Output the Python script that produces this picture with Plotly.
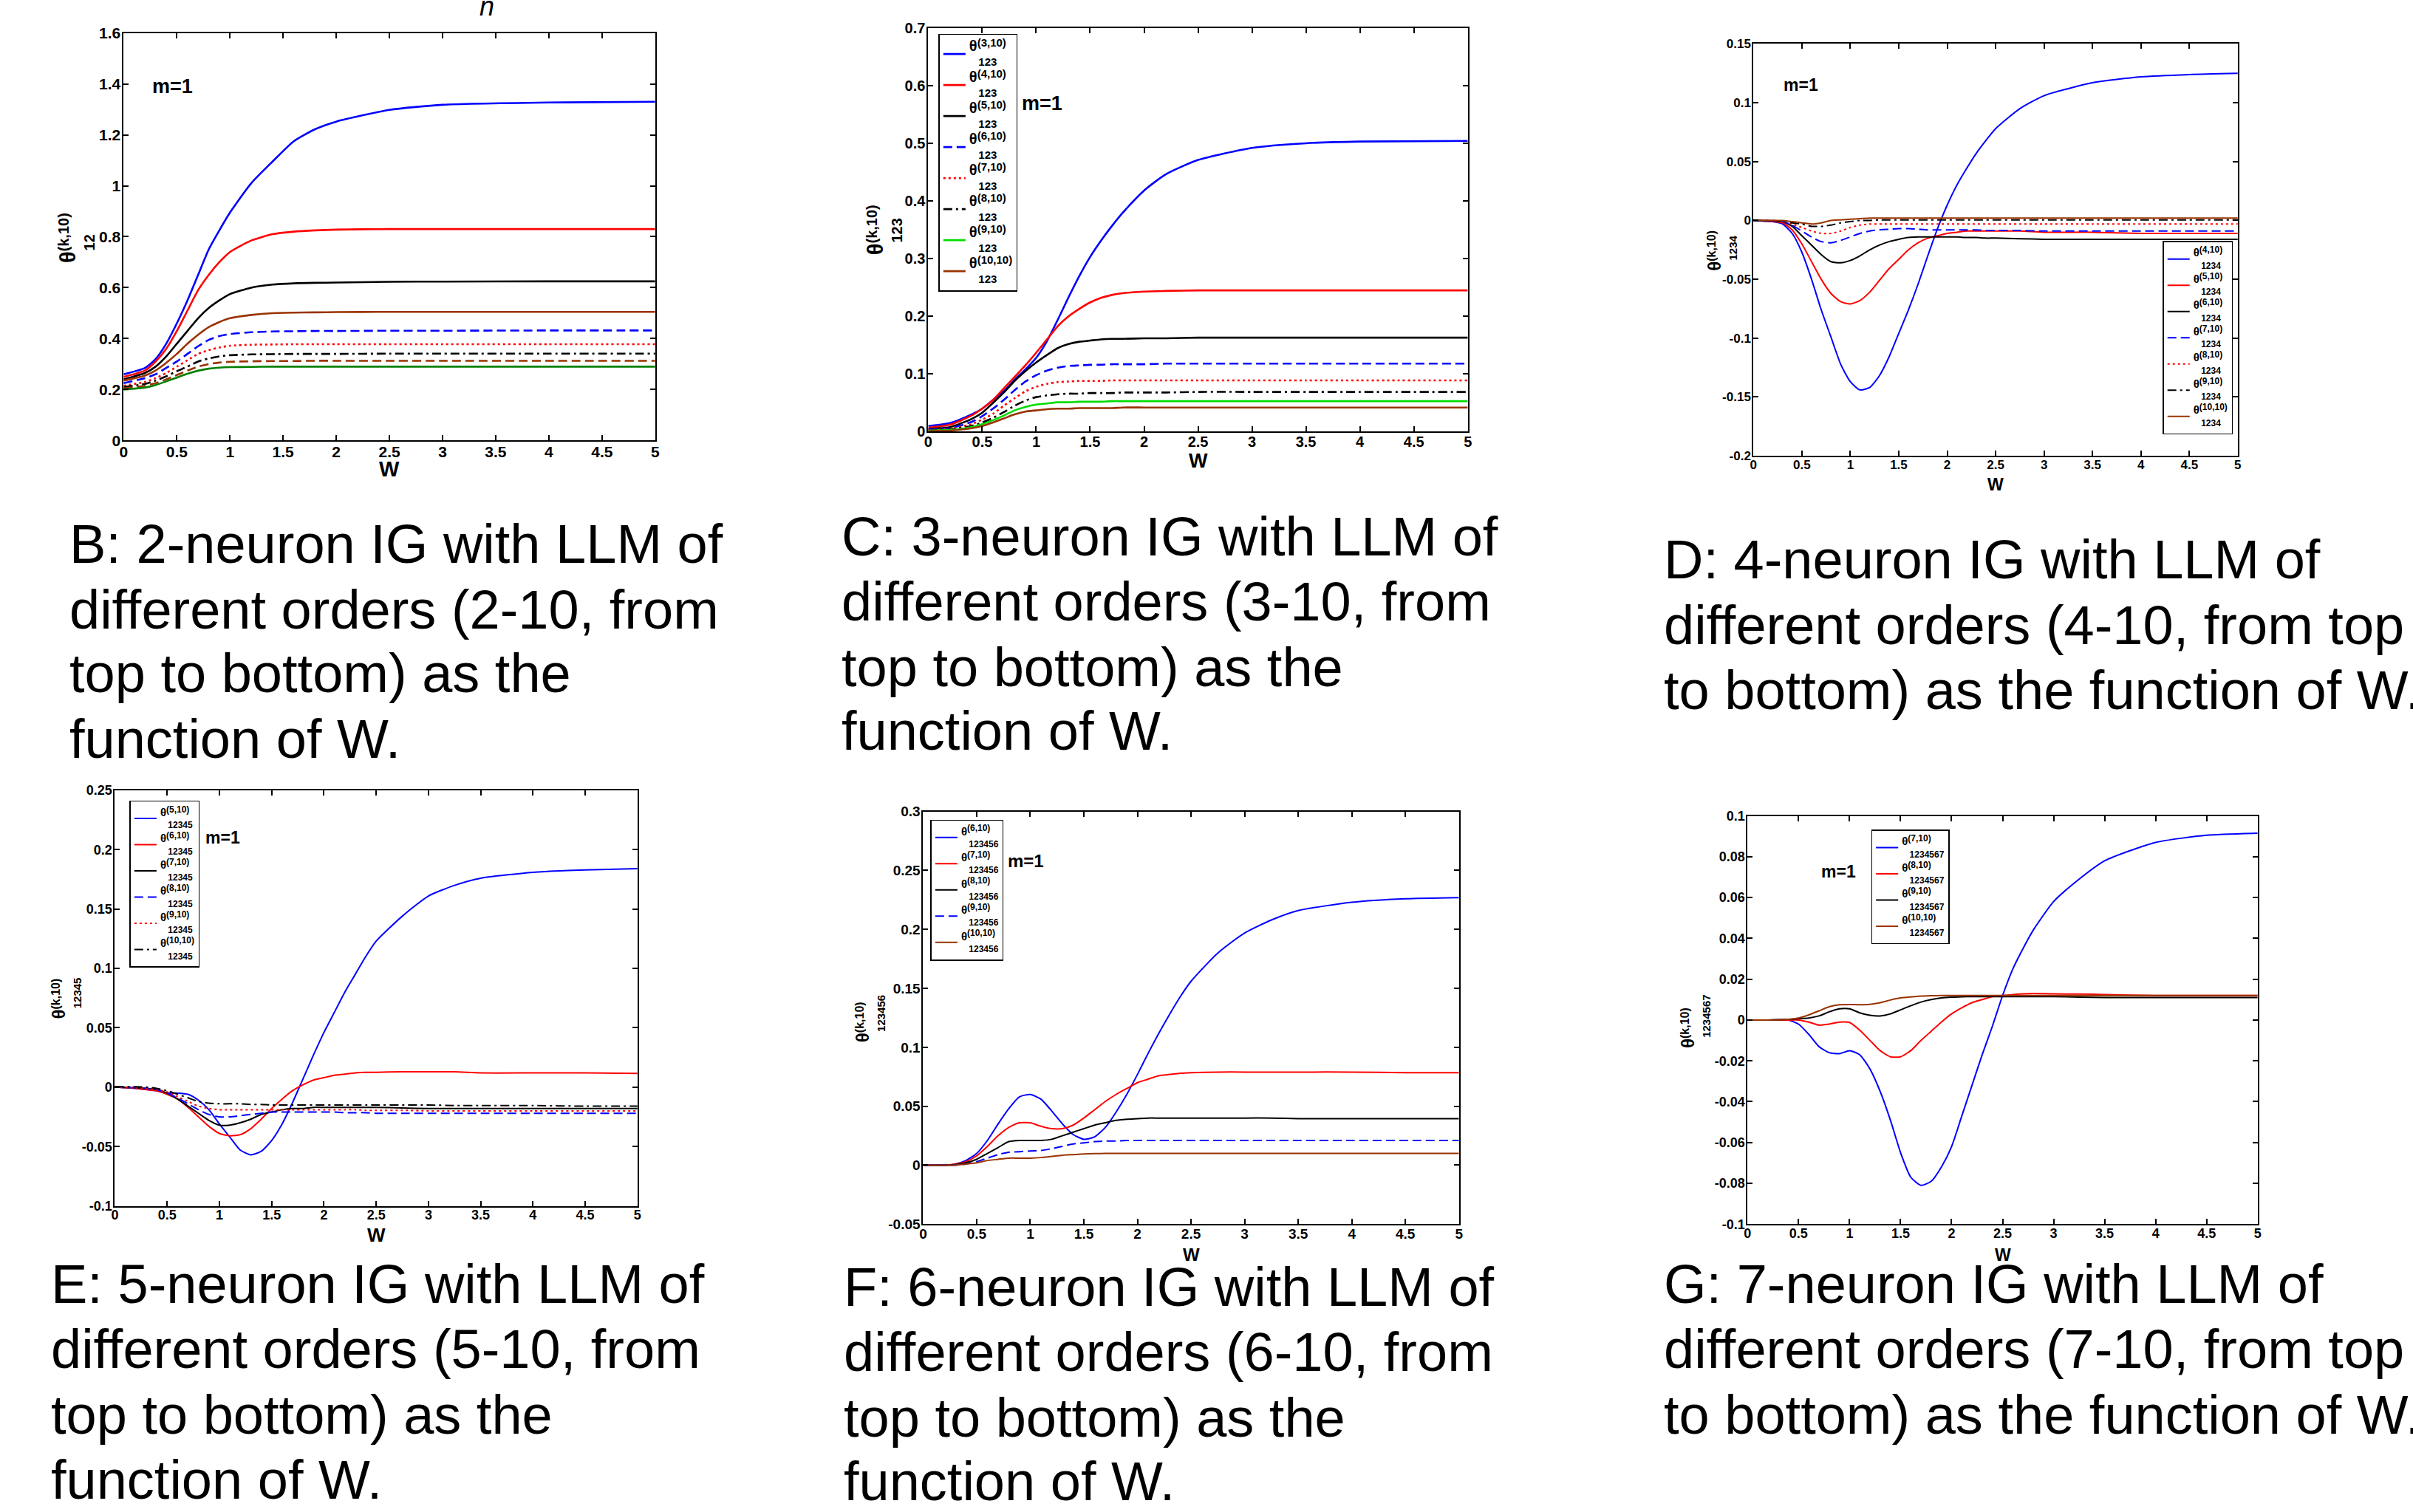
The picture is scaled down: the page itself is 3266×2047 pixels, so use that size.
import plotly.graph_objects as go

FIG_W, FIG_H = 3266, 2047
FONT = "Liberation Sans, Arial, sans-serif"

# ------------------------------------------------------------------ data
X_TICKS = [0, 0.5, 1, 1.5, 2, 2.5, 3, 3.5, 4, 4.5, 5]
X_TICKTEXT = ["0", "0.5", "1", "1.5", "2", "2.5", "3", "3.5", "4", "4.5", "5"]

# Panel B : theta_12^(k,10), k = 2..10
W_B = [0, 0.2, 0.3, 0.4, 0.5, 0.6, 0.7, 0.8, 0.9, 1.0, 1.2, 1.4, 1.6, 1.8, 2.0, 2.5, 3.0, 4.0, 5.0]
B_K2 = [0.26, 0.285, 0.32, 0.38, 0.46, 0.55, 0.65, 0.75, 0.825, 0.895, 1.01, 1.095, 1.175, 1.222, 1.252, 1.298, 1.318, 1.327, 1.33]
B_K3 = [0.25, 0.275, 0.31, 0.36, 0.43, 0.51, 0.59, 0.65, 0.70, 0.74, 0.785, 0.81, 0.82, 0.825, 0.828, 0.83, 0.83, 0.83, 0.83]
B_K4 = [0.24, 0.265, 0.29, 0.33, 0.38, 0.43, 0.48, 0.52, 0.55, 0.575, 0.60, 0.612, 0.617, 0.619, 0.62, 0.623, 0.624, 0.625, 0.625]
B_K5 = [0.235, 0.255, 0.275, 0.305, 0.34, 0.38, 0.415, 0.445, 0.465, 0.48, 0.493, 0.50, 0.502, 0.503, 0.504, 0.505, 0.505, 0.505, 0.505]
B_K6 = [0.225, 0.245, 0.26, 0.285, 0.31, 0.34, 0.37, 0.395, 0.41, 0.418, 0.425, 0.428, 0.429, 0.43, 0.43, 0.431, 0.431, 0.432, 0.432]
B_K7 = [0.215, 0.23, 0.245, 0.265, 0.29, 0.315, 0.34, 0.355, 0.365, 0.372, 0.376, 0.377, 0.378, 0.378, 0.378, 0.378, 0.378, 0.378, 0.378]
B_K8 = [0.21, 0.222, 0.235, 0.252, 0.272, 0.29, 0.31, 0.322, 0.33, 0.335, 0.338, 0.339, 0.34, 0.34, 0.34, 0.341, 0.341, 0.341, 0.341]
B_K9 = [0.205, 0.215, 0.225, 0.24, 0.257, 0.274, 0.29, 0.30, 0.306, 0.309, 0.311, 0.312, 0.312, 0.313, 0.313, 0.313, 0.313, 0.313, 0.313]
B_K10 = [0.20, 0.208, 0.218, 0.232, 0.247, 0.262, 0.274, 0.282, 0.286, 0.288, 0.289, 0.29, 0.29, 0.29, 0.29, 0.29, 0.29, 0.29, 0.29]
B_YTICKS = [0, 0.2, 0.4, 0.6, 0.8, 1, 1.2, 1.4, 1.6]
B_YTICKTEXT = ["0", "0.2", "0.4", "0.6", "0.8", "1", "1.2", "1.4", "1.6"]

# Panel C : theta_123^(k,10), k = 3..10
W_C = [0, 0.2, 0.4, 0.5, 0.6, 0.7, 0.8, 0.9, 1.0, 1.1, 1.2, 1.3, 1.4, 1.5, 1.6, 1.7, 1.8, 2.0, 2.2, 2.5, 3.0, 3.5, 4.0, 5.0]
C_K3 = [0.01, 0.015, 0.03, 0.04, 0.055, 0.07, 0.09, 0.108, 0.128, 0.157, 0.194, 0.233, 0.27, 0.303, 0.331, 0.356, 0.379, 0.418, 0.446, 0.471, 0.492, 0.50, 0.503, 0.504]
C_K4 = [0.007, 0.012, 0.028, 0.04, 0.055, 0.075, 0.095, 0.115, 0.137, 0.16, 0.183, 0.2, 0.213, 0.224, 0.232, 0.237, 0.24, 0.243, 0.244, 0.245, 0.245, 0.245, 0.245, 0.245]
C_K5 = [0.005, 0.008, 0.022, 0.033, 0.05, 0.068, 0.088, 0.105, 0.12, 0.133, 0.145, 0.152, 0.156, 0.158, 0.16, 0.161, 0.161, 0.162, 0.162, 0.163, 0.163, 0.163, 0.163, 0.163]
C_K6 = [0.004, 0.006, 0.017, 0.027, 0.04, 0.055, 0.072, 0.087, 0.098, 0.106, 0.111, 0.114, 0.115, 0.116, 0.116, 0.117, 0.117, 0.117, 0.118, 0.118, 0.118, 0.118, 0.118, 0.118]
C_K7 = [0.003, 0.005, 0.013, 0.021, 0.031, 0.045, 0.058, 0.07, 0.078, 0.083, 0.086, 0.087, 0.088, 0.088, 0.088, 0.089, 0.089, 0.089, 0.089, 0.089, 0.089, 0.089, 0.089, 0.089]
C_K8 = [0.002, 0.004, 0.01, 0.016, 0.024, 0.034, 0.045, 0.054, 0.06, 0.063, 0.065, 0.066, 0.066, 0.067, 0.067, 0.067, 0.068, 0.068, 0.068, 0.069, 0.069, 0.069, 0.069, 0.069]
C_K9 = [0.002, 0.003, 0.008, 0.013, 0.02, 0.028, 0.037, 0.043, 0.047, 0.049, 0.051, 0.051, 0.052, 0.052, 0.052, 0.053, 0.053, 0.053, 0.053, 0.053, 0.053, 0.053, 0.053, 0.053]
C_K10 = [0.001, 0.002, 0.006, 0.01, 0.016, 0.023, 0.03, 0.035, 0.037, 0.039, 0.04, 0.04, 0.041, 0.041, 0.041, 0.041, 0.042, 0.042, 0.042, 0.042, 0.042, 0.042, 0.042, 0.042]
C_YTICKS = [0, 0.1, 0.2, 0.3, 0.4, 0.5, 0.6, 0.7]
C_YTICKTEXT = ["0", "0.1", "0.2", "0.3", "0.4", "0.5", "0.6", "0.7"]

# Panel D : theta_1234^(k,10), k = 4..10
W_D = [0, 0.2, 0.3, 0.4, 0.5, 0.6, 0.7, 0.8, 0.9, 1.0, 1.1, 1.2, 1.3, 1.4, 1.5, 1.6, 1.7, 1.8, 1.9, 2.0, 2.1, 2.2, 2.3, 2.4, 2.5, 2.75, 3.0, 3.5, 4.0, 4.5, 5.0]
D_K4 = [0, -0.001, -0.003, -0.011, -0.027, -0.05, -0.076, -0.099, -0.122, -0.137, -0.144, -0.142, -0.132, -0.116, -0.096, -0.076, -0.054, -0.03, -0.007, 0.013, 0.03, 0.044, 0.057, 0.068, 0.078, 0.095, 0.106, 0.117, 0.122, 0.124, 0.125]
D_K5 = [0, -0.001, -0.002, -0.008, -0.02, -0.035, -0.05, -0.062, -0.069, -0.071, -0.068, -0.061, -0.051, -0.041, -0.033, -0.025, -0.019, -0.015, -0.013, -0.011, -0.01, -0.009, -0.009, -0.009, -0.009, -0.009, -0.01, -0.01, -0.011, -0.011, -0.011]
D_K6 = [0, -0.0005, -0.001, -0.005, -0.013, -0.021, -0.029, -0.035, -0.036, -0.034, -0.03, -0.025, -0.021, -0.018, -0.016, -0.0145, -0.014, -0.014, -0.014, -0.014, -0.014, -0.0145, -0.0145, -0.015, -0.015, -0.0155, -0.016, -0.016, -0.016, -0.016, -0.016]
D_K7 = [0, -0.0005, -0.001, -0.004, -0.009, -0.014, -0.018, -0.019, -0.017, -0.014, -0.011, -0.009, -0.008, -0.0075, -0.007, -0.007, -0.0075, -0.008, -0.008, -0.008, -0.008, -0.008, -0.008, -0.0085, -0.0085, -0.0085, -0.009, -0.009, -0.009, -0.009, -0.009]
D_K8 = [0, 0, -0.001, -0.003, -0.006, -0.009, -0.011, -0.011, -0.009, -0.006, -0.004, -0.003, -0.003, -0.003, -0.003, -0.003, -0.003, -0.003, -0.003, -0.003, -0.003, -0.003, -0.003, -0.003, -0.003, -0.003, -0.003, -0.003, -0.003, -0.003, -0.003]
D_K9 = [0, 0, -0.001, -0.002, -0.003, -0.005, -0.005, -0.004, -0.002, -0.001, 0, 0, 0.0005, 0.0005, 0.0005, 0.0005, 0.0005, 0.0005, 0.0005, 0.0005, 0.0005, 0.0005, 0.0005, 0.0005, 0.0005, 0.0005, 0.0005, 0.0005, 0.0005, 0.0005, 0.0005]
D_K10 = [0.0005, 0, 0, -0.001, -0.002, -0.003, -0.002, 0, 0.0005, 0.001, 0.0015, 0.002, 0.002, 0.002, 0.002, 0.002, 0.002, 0.002, 0.002, 0.002, 0.002, 0.002, 0.002, 0.002, 0.002, 0.002, 0.002, 0.002, 0.002, 0.002, 0.002]
D_YTICKS = [-0.2, -0.15, -0.1, -0.05, 0, 0.05, 0.1, 0.15]
D_YTICKTEXT = ["-0.2", "-0.15", "-0.1", "-0.05", "0", "0.05", "0.1", "0.15"]

# Panel E : theta_12345^(k,10), k = 5..10
W_E = [0, 0.2, 0.3, 0.4, 0.5, 0.6, 0.7, 0.8, 0.9, 1.0, 1.1, 1.2, 1.3, 1.4, 1.5, 1.6, 1.7, 1.8, 1.9, 2.0, 2.1, 2.2, 2.3, 2.4, 2.5, 2.75, 3.0, 3.25, 3.5, 4.0, 4.5, 5.0]
E_K5 = [0, -0.001, -0.002, -0.003, -0.005, -0.005, -0.006, -0.011, -0.019, -0.031, -0.042, -0.053, -0.057, -0.054, -0.045, -0.031, -0.013, 0.007, 0.027, 0.046, 0.063, 0.08, 0.095, 0.11, 0.123, 0.144, 0.161, 0.17, 0.176, 0.181, 0.183, 0.184]
E_K6 = [0, -0.001, -0.002, -0.003, -0.006, -0.01, -0.017, -0.025, -0.033, -0.039, -0.041, -0.04, -0.035, -0.027, -0.018, -0.01, -0.003, 0.002, 0.006, 0.008, 0.01, 0.011, 0.012, 0.0125, 0.0125, 0.013, 0.013, 0.013, 0.012, 0.012, 0.012, 0.0115]
E_K7 = [0, -0.0005, -0.001, -0.002, -0.005, -0.01, -0.016, -0.022, -0.028, -0.032, -0.032, -0.03, -0.027, -0.023, -0.021, -0.019, -0.018, -0.018, -0.017, -0.017, -0.017, -0.017, -0.017, -0.017, -0.017, -0.0175, -0.018, -0.018, -0.018, -0.018, -0.018, -0.018]
E_K8 = [0, -0.0005, -0.001, -0.002, -0.005, -0.009, -0.014, -0.019, -0.023, -0.025, -0.025, -0.024, -0.023, -0.022, -0.021, -0.021, -0.021, -0.021, -0.021, -0.021, -0.021, -0.0215, -0.0215, -0.0215, -0.022, -0.022, -0.022, -0.022, -0.022, -0.022, -0.022, -0.022]
E_K9 = [0, -0.0005, -0.001, -0.002, -0.004, -0.008, -0.012, -0.016, -0.018, -0.019, -0.019, -0.019, -0.019, -0.019, -0.019, -0.019, -0.019, -0.019, -0.019, -0.019, -0.019, -0.019, -0.019, -0.0195, -0.0195, -0.0195, -0.02, -0.02, -0.02, -0.02, -0.02, -0.02]
E_K10 = [0.0005, 0.0003, 0, -0.001, -0.003, -0.006, -0.009, -0.012, -0.0135, -0.014, -0.014, -0.014, -0.0145, -0.0145, -0.015, -0.015, -0.015, -0.015, -0.015, -0.015, -0.015, -0.015, -0.015, -0.015, -0.015, -0.015, -0.015, -0.0155, -0.0155, -0.0155, -0.016, -0.016]
E_YTICKS = [-0.1, -0.05, 0, 0.05, 0.1, 0.15, 0.2, 0.25]
E_YTICKTEXT = ["-0.1", "-0.05", "0", "0.05", "0.1", "0.15", "0.2", "0.25"]

# Panel F : theta_123456^(k,10), k = 6..10
W_F = [0, 0.2, 0.3, 0.4, 0.5, 0.6, 0.7, 0.8, 0.9, 1.0, 1.1, 1.2, 1.3, 1.4, 1.5, 1.6, 1.7, 1.8, 1.9, 2.0, 2.1, 2.2, 2.3, 2.4, 2.5, 2.75, 3.0, 3.25, 3.5, 4.0, 4.5, 5.0]
F_K6 = [0, 0, 0.001, 0.004, 0.01, 0.021, 0.035, 0.048, 0.058, 0.06, 0.056, 0.046, 0.035, 0.026, 0.022, 0.024, 0.032, 0.045, 0.06, 0.077, 0.095, 0.112, 0.128, 0.143, 0.156, 0.18, 0.197, 0.208, 0.216, 0.223, 0.226, 0.227]
F_K7 = [0, 0, 0.001, 0.003, 0.008, 0.016, 0.025, 0.032, 0.036, 0.036, 0.033, 0.031, 0.031, 0.034, 0.04, 0.047, 0.054, 0.06, 0.065, 0.07, 0.073, 0.076, 0.077, 0.078, 0.0785, 0.079, 0.079, 0.079, 0.079, 0.079, 0.0785, 0.0785]
F_K8 = [0, 0, 0.0005, 0.002, 0.005, 0.01, 0.015, 0.02, 0.021, 0.021, 0.021, 0.022, 0.025, 0.028, 0.031, 0.034, 0.036, 0.038, 0.039, 0.0395, 0.04, 0.04, 0.04, 0.04, 0.04, 0.04, 0.04, 0.04, 0.0395, 0.0395, 0.0395, 0.0395]
F_K9 = [0, 0, 0, 0.001, 0.003, 0.006, 0.009, 0.011, 0.0115, 0.012, 0.0125, 0.014, 0.016, 0.018, 0.019, 0.02, 0.0205, 0.0205, 0.021, 0.021, 0.021, 0.021, 0.021, 0.021, 0.021, 0.021, 0.021, 0.021, 0.021, 0.021, 0.021, 0.021]
F_K10 = [0, 0, 0, 0.001, 0.002, 0.004, 0.005, 0.006, 0.006, 0.006, 0.0065, 0.0075, 0.0085, 0.009, 0.0095, 0.0098, 0.01, 0.01, 0.01, 0.01, 0.01, 0.01, 0.01, 0.01, 0.01, 0.01, 0.01, 0.01, 0.01, 0.01, 0.01, 0.01]
F_YTICKS = [-0.05, 0, 0.05, 0.1, 0.15, 0.2, 0.25, 0.3]
F_YTICKTEXT = ["-0.05", "0", "0.05", "0.1", "0.15", "0.2", "0.25", "0.3"]

# Panel G : theta_1234567^(k,10), k = 7..10
W_G = [0, 0.2, 0.4, 0.5, 0.6, 0.7, 0.8, 0.9, 1.0, 1.1, 1.2, 1.3, 1.4, 1.5, 1.6, 1.7, 1.8, 1.9, 2.0, 2.1, 2.2, 2.3, 2.4, 2.5, 2.6, 2.7, 2.8, 3.0, 3.25, 3.5, 4.0, 4.5, 5.0]
G_K7 = [0, 0, 0, -0.002, -0.007, -0.013, -0.016, -0.0165, -0.015, -0.017, -0.024, -0.035, -0.049, -0.065, -0.077, -0.081, -0.079, -0.072, -0.062, -0.047, -0.032, -0.017, -0.003, 0.012, 0.025, 0.035, 0.044, 0.058, 0.069, 0.078, 0.087, 0.0905, 0.0915]
G_K8 = [0, 0, 0, 0, -0.001, -0.0025, -0.002, -0.001, -0.0012, -0.005, -0.01, -0.015, -0.018, -0.018, -0.015, -0.01, -0.0055, -0.001, 0.003, 0.006, 0.0085, 0.01, 0.0115, 0.012, 0.0125, 0.0128, 0.013, 0.0128, 0.0127, 0.0125, 0.012, 0.012, 0.012]
G_K9 = [0, 0, 0.0003, 0.0007, 0.001, 0.002, 0.004, 0.0055, 0.0055, 0.0035, 0.0023, 0.002, 0.003, 0.005, 0.007, 0.0088, 0.01, 0.0108, 0.0112, 0.0114, 0.0115, 0.0115, 0.0115, 0.0115, 0.0115, 0.0115, 0.0115, 0.0115, 0.0112, 0.011, 0.011, 0.011, 0.011]
G_K10 = [0, 0, 0.0003, 0.001, 0.0025, 0.0045, 0.0065, 0.0075, 0.0076, 0.0075, 0.0077, 0.0085, 0.0098, 0.0108, 0.0113, 0.0117, 0.0119, 0.012, 0.012, 0.012, 0.012, 0.012, 0.012, 0.012, 0.012, 0.012, 0.012, 0.012, 0.012, 0.012, 0.012, 0.012, 0.012]
G_YTICKS = [-0.1, -0.08, -0.06, -0.04, -0.02, 0, 0.02, 0.04, 0.06, 0.08, 0.1]
G_YTICKTEXT = ["-0.1", "-0.08", "-0.06", "-0.04", "-0.02", "0", "0.02", "0.04", "0.06", "0.08", "0.1"]

CAPTION_B = ["B: 2-neuron IG with LLM of", "different orders (2-10, from", "top to bottom) as the", "function of W."]
CAPTION_C = ["C: 3-neuron IG with LLM of", "different orders (3-10, from", "top to bottom) as the", "function of W."]
CAPTION_D = ["D: 4-neuron IG with LLM of", "different orders (4-10, from top", "to bottom) as the function of W."]
CAPTION_E = ["E: 5-neuron IG with LLM of", "different orders (5-10, from", "top to bottom) as the", "function of W."]
CAPTION_F = ["F: 6-neuron IG with LLM of", "different orders (6-10, from", "top to bottom) as the", "function of W."]
CAPTION_G = ["G: 7-neuron IG with LLM of", "different orders (7-10, from top", "to bottom) as the function of W."]

# ------------------------------------------------------------------ styles
BLUE, RED, BLACK = "#0000FF", "#FF0000", "#000000"
BROWN, GREEN_D, GREEN = "#993300", "#008000", "#00DD00"
SOLID, DASH, DOT, DASHDOT = "solid", "12px,6px", "3px,4px", "12px,5px,3px,5px"


def xp(px):
    return px / FIG_W


def yp(py):
    return 1 - py / FIG_H


NB = "\u00a0"


def stacked(sup, sub, theta_px, sup_px, sub_px, pad):
    """theta with superscript, subscript placed on the following line."""
    return (f"<span style='font-size:{theta_px}px'>θ</span>"
            f"<sup><span style='font-size:{sup_px}px'>{sup}</span></sup>"
            f"<br>{NB * pad}<span style='font-size:{sub_px}px'>{sub}</span>")


panels = [
    dict(sub="12", box=(162, 33, 884, 591), yr=[0, 1.6], yt=B_YTICKS, ytt=B_YTICKTEXT, W=W_B,
         series=[(B_K2, 2, BLUE, SOLID), (B_K3, 3, RED, SOLID), (B_K4, 4, BLACK, SOLID), (B_K5, 5, BROWN, SOLID),
                 (B_K6, 6, BLUE, DASH), (B_K7, 7, RED, DOT), (B_K8, 8, BLACK, DASHDOT), (B_K9, 9, BROWN, DASH),
                 (B_K10, 10, GREEN_D, SOLID)],
         lw=2.6, tick=21, wsize=29, wdy=39, msize=27, m=(228, 106), ylab=(98, 314), yl=(20, 29, 20, 20, 3),
         legend=None, cap=CAPTION_B, capxy=(86, [733, 823, 910, 1000])),
    dict(sub="123", box=(1255, 26, 1988, 579), yr=[0, 0.7], yt=C_YTICKS, ytt=C_YTICKTEXT, W=W_C,
         series=[(C_K3, 3, BLUE, SOLID), (C_K4, 4, RED, SOLID), (C_K5, 5, BLACK, SOLID), (C_K6, 6, BLUE, DASH),
                 (C_K7, 7, RED, DOT), (C_K8, 8, BLACK, DASHDOT), (C_K9, 9, GREEN, SOLID), (C_K10, 10, BROWN, SOLID)],
         lw=2.6, tick=20, wsize=27, wdy=40, msize=27, m=(1410, 129), ylab=(1195, 303), yl=(20, 29, 20, 20, 3),
         legend=dict(pos=(1269, 34), size=15, t=(20, 15, 15, 3)), cap=CAPTION_C,
         capxy=(1135, [723, 812, 902, 989])),
    dict(sub="1234", box=(2376, 48, 3034, 612), yr=[-0.2, 0.15], yt=D_YTICKS, ytt=D_YTICKTEXT, W=W_D,
         series=[(D_K4, 4, BLUE, SOLID), (D_K5, 5, RED, SOLID), (D_K6, 6, BLACK, SOLID), (D_K7, 7, BLUE, DASH),
                 (D_K8, 8, RED, DOT), (D_K9, 9, BLACK, DASHDOT), (D_K10, 10, BROWN, SOLID)],
         lw=2, tick=17, wsize=23, wdy=39, msize=23, m=(2440, 104), ylab=(2334, 331), yl=(17, 24, 16, 15, 3),
         legend=dict(pos=(2932, 318), size=12.5, t=(15, 12, 12, 3)), cap=CAPTION_D,
         capxy=(2252, [754, 844, 933])),
    dict(sub="12345", box=(150, 1070, 860, 1639), yr=[-0.1, 0.25], yt=E_YTICKS, ytt=E_YTICKTEXT, W=W_E,
         series=[(E_K5, 5, BLUE, SOLID), (E_K6, 6, RED, SOLID), (E_K7, 7, BLACK, SOLID), (E_K8, 8, BLUE, DASH),
                 (E_K9, 9, RED, DOT), (E_K10, 10, BLACK, DASHDOT)],
         lw=2, tick=18, wsize=26, wdy=40, msize=23, m=(297, 1135), ylab=(84, 1355), yl=(17, 24, 16, 15, 3),
         legend=dict(pos=(170, 1084), size=12.5, t=(15, 12, 12, 3)), cap=CAPTION_E,
         capxy=(61, [1746, 1835, 1925, 2014])),
    dict(sub="123456", box=(1248, 1099, 1976, 1664), yr=[-0.05, 0.3], yt=F_YTICKS, ytt=F_YTICKTEXT, W=W_F,
         series=[(F_K6, 6, BLUE, SOLID), (F_K7, 7, RED, SOLID), (F_K8, 8, BLACK, SOLID), (F_K9, 9, BLUE, DASH),
                 (F_K10, 10, BROWN, SOLID)],
         lw=2, tick=19, wsize=24, wdy=42, msize=24, m=(1388, 1167), ylab=(1177, 1383), yl=(17, 24, 16, 15, 3),
         legend=dict(pos=(1258, 1110), size=12.5, t=(15, 12, 12, 3)), cap=CAPTION_F,
         capxy=(1138, [1750, 1839, 1929, 2016])),
    dict(sub="1234567", box=(2368, 1105, 3061, 1664), yr=[-0.1, 0.1], yt=G_YTICKS, ytt=G_YTICKTEXT, W=W_G,
         series=[(G_K7, 7, BLUE, SOLID), (G_K8, 8, RED, SOLID), (G_K9, 9, BLACK, SOLID), (G_K10, 10, BROWN, SOLID)],
         lw=2, tick=18, wsize=23, wdy=42, msize=23, m=(2492, 1181), ylab=(2298, 1386), yl=(17, 24, 16, 15, 3),
         legend=dict(pos=(2536, 1124), size=12.5, t=(15, 12, 12, 3)), cap=CAPTION_G,
         capxy=(2252, [1746, 1835, 1925])),
]

fig = go.Figure()
layout = dict(width=FIG_W, height=FIG_H, margin=dict(l=0, r=0, t=0, b=0),
              paper_bgcolor="white", plot_bgcolor="white", showlegend=True)
annotations = []

for i, p in enumerate(panels):
    n = i + 1
    sfx = "" if n == 1 else str(n)
    xref, yref = "x" + sfx, "y" + sfx
    x0, y0, x1, y1 = p["box"]
    common = dict(showline=True, linecolor="black", linewidth=2, mirror="ticks", ticks="inside",
                  ticklen=7, tickwidth=1.5, tickcolor="black", showgrid=False, zeroline=False,
                  tickfont=dict(family=FONT, size=p["tick"], color="black", weight="bold"))
    layout["xaxis" + sfx] = dict(domain=[xp(x0), xp(x1)], range=[0, 5], tickvals=X_TICKS,
                                 ticktext=X_TICKTEXT, anchor=yref, ticklabelstandoff=-5, **common)
    layout["yaxis" + sfx] = dict(domain=[yp(y1), yp(y0)], range=p["yr"], tickvals=p["yt"],
                                 ticktext=p["ytt"], anchor=xref, ticklabelstandoff=-2, **common)

    lid = None
    if p["legend"]:
        lid = "legend" + str(n)
        lx, ly = p["legend"]["pos"]
        layout[lid] = dict(x=xp(lx), y=yp(ly), xanchor="left", yanchor="top", xref="paper", yref="paper",
                           bgcolor="white", bordercolor="black", borderwidth=1.5, tracegroupgap=0,
                           font=dict(family=FONT, size=p["legend"]["size"], color="black", weight="bold"))

    for vals, k, color, dash in p["series"]:
        name = "_"
        if lid:
            tp, sp, bp, pad = p["legend"]["t"]
            name = stacked(f"({k},10)", p["sub"], tp, sp, bp, pad)
        tr = go.Scatter(x=p["W"], y=vals, mode="lines", xaxis=xref, yaxis=yref, name=name,
                        line=dict(color=color, width=p["lw"], dash=dash, shape="spline", smoothing=0.6),
                        showlegend=lid is not None)
        if lid:
            tr.legend = lid
        fig.add_trace(tr)

    # m=1
    mx, my = p["m"]
    annotations.append(dict(x=xp(mx), y=yp(my), xref="paper", yref="paper", text="m=1", showarrow=False,
                            xanchor="center", yanchor="middle",
                            font=dict(family=FONT, size=p["msize"], color="black", weight="bold")))
    # W label
    annotations.append(dict(x=xp((x0 + x1) / 2), y=yp(y1 + p["wdy"]), xref="paper", yref="paper", text="W",
                            showarrow=False, xanchor="center", yanchor="middle",
                            font=dict(family=FONT, size=p["wsize"], color="black", weight="bold")))
    # y label
    lx, ly = p["ylab"]
    base, tp, sp, bp, pad = p["yl"]
    annotations.append(dict(x=xp(lx), y=yp(ly), xref="paper", yref="paper",
                            text=stacked("(k,10)", p["sub"], tp, sp, bp, pad), showarrow=False,
                            textangle=-90, align="left", xanchor="center", yanchor="middle",
                            font=dict(family=FONT, size=base, color="black", weight="bold")))
    # caption
    cx, cys = p["capxy"]
    for line, cy in zip(p["cap"], cys):
        annotations.append(dict(x=xp(cx), y=yp(cy), xref="paper", yref="paper", text=line, showarrow=False,
                                xanchor="left", yanchor="middle",
                                font=dict(family=FONT, size=74, color="black")))

# partially visible italic letter at the very top
annotations.append(dict(x=xp(655), y=yp(19), xref="paper", yref="paper", text="<i>n</i>", showarrow=False,
                        xanchor="center", yanchor="bottom", font=dict(family=FONT, size=36, color="black")))

layout["annotations"] = annotations
fig.update_layout(**layout)

fig.write_html("out.html", include_plotlyjs=True, config={"displayModeBar": False},
               post_script="document.body.style.margin='0';document.body.style.overflow='hidden';")
